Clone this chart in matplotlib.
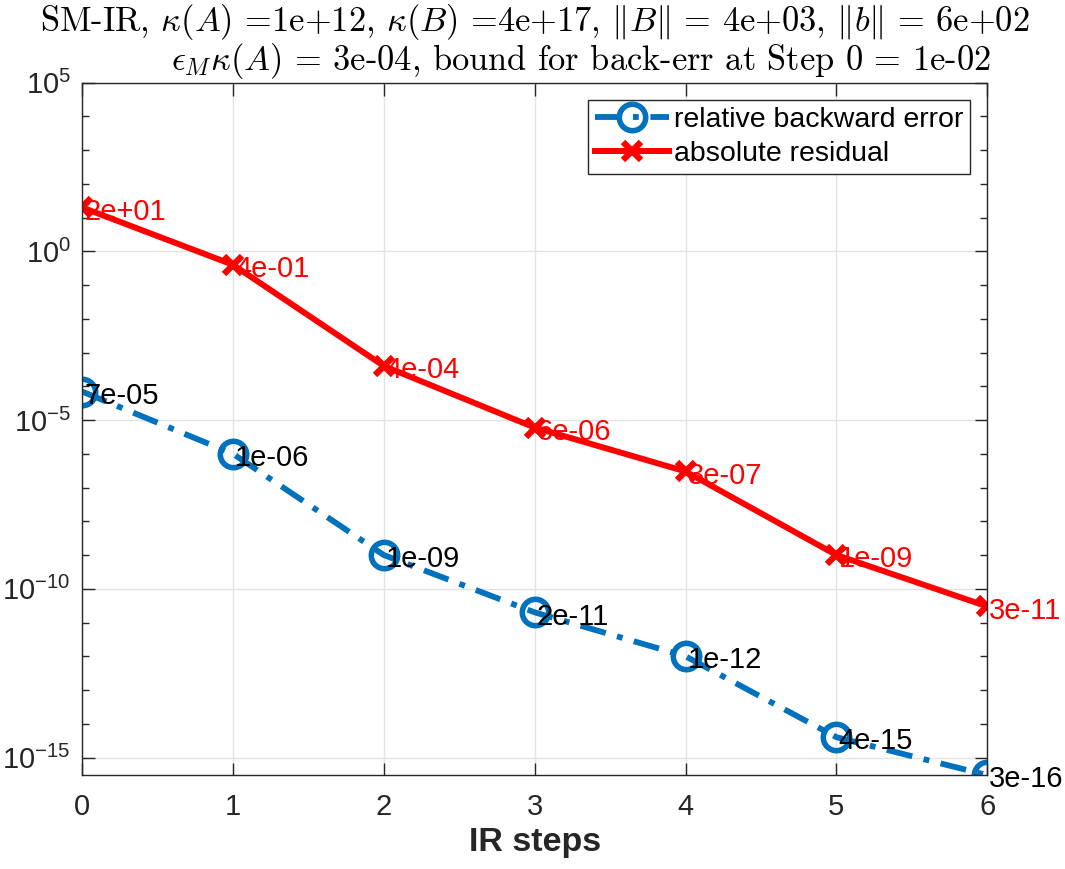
import numpy as np
import matplotlib
matplotlib.use("Agg")
import matplotlib.pyplot as plt

plt.rcParams['font.family'] = ['Liberation Sans', 'DejaVu Sans']
plt.rcParams['mathtext.fontset'] = 'custom'
plt.rcParams['mathtext.rm'] = 'Liberation Sans'
plt.rcParams['mathtext.it'] = 'Liberation Sans:italic'

steps = [0, 1, 2, 3, 4, 5, 6]
backward_err = [7e-05, 1e-06, 1e-09, 2e-11, 1e-12, 4e-15, 3e-16]
abs_residual = [2e+01, 4e-01, 4e-04, 6e-06, 3e-07, 1e-09, 3e-11]
err_labels = ['7e-05', '1e-06', '1e-09', '2e-11', '1e-12', '4e-15', '3e-16']
res_labels = ['2e+01', '4e-01', '4e-04', '6e-06', '3e-07', '1e-09', '3e-11']

blue = '#0072bd'
gray = '#262626'

fig = plt.figure(figsize=(10.65, 8.69), dpi=100)
ax = fig.add_axes([0.077, 0.108, 0.850, 0.797])

ax.plot(steps, backward_err, linestyle='-.', color=blue, lw=4.2, marker='o',
        ms=19, mfc='none', mew=4, label='relative backward error',
        dashes=(4.5, 2, 1, 2))
ax.plot(steps, abs_residual, linestyle='-', color='red', lw=4.3, marker='x',
        ms=13, mew=4.5, label='absolute residual')

for x, y, s in zip(steps, backward_err, err_labels):
    ax.annotate(s, (x, y), xytext=(1.5, -3), textcoords='offset points',
                fontsize=21, color='black', ha='left', va='center', zorder=5)
for x, y, s in zip(steps, abs_residual, res_labels):
    ax.annotate(s, (x, y), xytext=(1.5, -3), textcoords='offset points',
                fontsize=21, color='red', ha='left', va='center', zorder=5)

ax.set_yscale('log')
ax.set_xlim(0, 6)
ax.set_ylim(3e-16, 1e5)
ax.set_xticks(steps)
ax.set_yticks([1e-15, 1e-10, 1e-5, 1e0, 1e5])
ax.set_yticklabels([r'$10^{-15}$', r'$10^{-10}$', r'$10^{-5}$', r'$10^{0}$', r'$10^{5}$'])
ax.yaxis.set_minor_locator(matplotlib.ticker.LogLocator(base=10, subs=[1.0], numticks=30))
ax.yaxis.set_minor_formatter(matplotlib.ticker.NullFormatter())
ax.tick_params(axis='both', which='both', direction='in', colors=gray,
               top=True, right=True, labelsize=21, width=1)
ax.tick_params(which='major', length=9)
ax.tick_params(which='minor', length=5)
ax.tick_params(axis='x', pad=13)
ax.tick_params(axis='y', pad=8)
ax.grid(True, which='major', color='#e3e3e3', lw=1)
ax.set_axisbelow(True)
for sp in ax.spines.values():
    sp.set_color(gray)
    sp.set_linewidth(1)

ax.set_xlabel('IR steps', fontsize=24.5, fontweight='bold', color=gray, labelpad=4)

leg = ax.legend(loc='upper right', fontsize=20.5, frameon=True, fancybox=False,
                edgecolor=gray, framealpha=1, handlelength=2.6, borderpad=0.25,
                labelspacing=0.3, handletextpad=0.15, borderaxespad=0.6)
leg.get_frame().set_linewidth(1)

fig.text(0.502, 0.975, r"SM-IR, $\kappa(A)$ =1e+12, $\kappa(B)$ =4e+17, $\|B\|$ = 4e+03, $\|b\|$ = 6e+02",
         fontsize=24.8, family='cmr10', math_fontfamily='cm', ha='center', va='center')
fig.text(0.545, 0.930, r"$\epsilon_M\kappa(A)$ = 3e-04, bound for back-err at Step 0 = 1e-02",
         fontsize=24.8, family='cmr10', math_fontfamily='cm', ha='center', va='center')

fig.savefig('out.png', dpi=100)
